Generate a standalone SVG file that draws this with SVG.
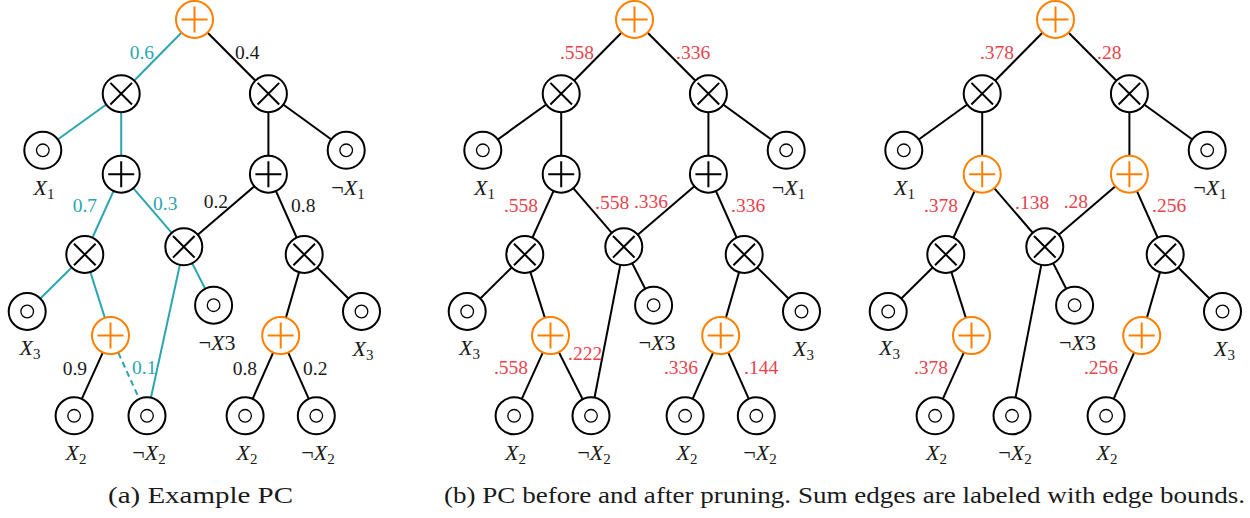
<svg xmlns="http://www.w3.org/2000/svg" width="1250" height="518" viewBox="0 0 1250 518" font-family="'Liberation Serif', 'Times New Roman', serif">
<style>
.bg{fill:#fff}
.e{stroke:#000;stroke-width:2;fill:none}
.tl{stroke:#2ba5b0}
.dash{stroke-dasharray:6 4}
.nd{stroke:#000;stroke-width:2;fill:none}
.nd circle{fill:#fff}
.org{stroke:#ff8000}
.nd .in{stroke-width:1.3}
text{font-family:"Liberation Serif","Times New Roman",serif;fill:#1a1a1a}
.w{font-size:19.5px}
.wt{fill:#2ba5b0}
.wr{fill:#e8434d}
.lb{font-size:22px;text-anchor:middle}
.it{font-style:italic}
.sb{font-size:15px}
.cap{font-size:24px}
</style>
<rect class="bg" width="1250" height="518"/>

<g id="connectors">
<!-- tree a -->
<line class="e tl" x1="194.5" y1="19.5" x2="121.2" y2="93.7"/>
<line class="e" x1="194.5" y1="19.5" x2="268.4" y2="93.7"/>
<line class="e tl" x1="121.2" y1="93.7" x2="42.8" y2="150.3"/>
<line class="e tl" x1="121.2" y1="93.7" x2="121.2" y2="174.2"/>
<line class="e" x1="268.4" y1="93.7" x2="268.4" y2="174.2"/>
<line class="e" x1="268.4" y1="93.7" x2="346.2" y2="150.3"/>
<line class="e tl" x1="121.2" y1="174.2" x2="84.8" y2="254.5"/>
<line class="e tl" x1="121.2" y1="174.2" x2="183.8" y2="246.8"/>
<line class="e" x1="268.4" y1="174.2" x2="183.8" y2="246.8"/>
<line class="e" x1="268.4" y1="174.2" x2="304.2" y2="254.5"/>
<line class="e tl" x1="84.8" y1="254.5" x2="27.2" y2="311.5"/>
<line class="e tl" x1="84.8" y1="254.5" x2="110.5" y2="335.6"/>
<line class="e tl" x1="183.8" y1="246.8" x2="147" y2="415.8"/>
<line class="e tl" x1="183.8" y1="246.8" x2="213.6" y2="305.2"/>
<line class="e" x1="304.2" y1="254.5" x2="280.7" y2="335.6"/>
<line class="e" x1="304.2" y1="254.5" x2="361.5" y2="311.5"/>
<line class="e" x1="110.5" y1="335.6" x2="74.1" y2="415.8"/>
<line class="e tl dash" x1="118.4" y1="352.9" x2="139.1" y2="398.5"/>
<line class="e" x1="280.7" y1="335.6" x2="245.1" y2="415.8"/>
<line class="e" x1="280.7" y1="335.6" x2="316.3" y2="415.8"/>
<!-- tree b -->
<line class="e" x1="634.5" y1="19.5" x2="561.2" y2="93.7"/>
<line class="e" x1="634.5" y1="19.5" x2="708.4" y2="93.7"/>
<line class="e" x1="561.2" y1="93.7" x2="482.8" y2="150.3"/>
<line class="e" x1="561.2" y1="93.7" x2="561.2" y2="174.2"/>
<line class="e" x1="708.4" y1="93.7" x2="708.4" y2="174.2"/>
<line class="e" x1="708.4" y1="93.7" x2="786.2" y2="150.3"/>
<line class="e" x1="561.2" y1="174.2" x2="524.8" y2="254.5"/>
<line class="e" x1="561.2" y1="174.2" x2="623.8" y2="246.8"/>
<line class="e" x1="708.4" y1="174.2" x2="623.8" y2="246.8"/>
<line class="e" x1="708.4" y1="174.2" x2="744.2" y2="254.5"/>
<line class="e" x1="524.8" y1="254.5" x2="467.2" y2="311.5"/>
<line class="e" x1="524.8" y1="254.5" x2="550.5" y2="335.6"/>
<line class="e" x1="623.8" y1="246.8" x2="591" y2="415.8"/>
<line class="e" x1="623.8" y1="246.8" x2="653.6" y2="305.2"/>
<line class="e" x1="744.2" y1="254.5" x2="720.7" y2="335.6"/>
<line class="e" x1="744.2" y1="254.5" x2="801.5" y2="311.5"/>
<line class="e" x1="550.5" y1="335.6" x2="514.1" y2="415.8"/>
<line class="e" x1="550.5" y1="335.6" x2="591" y2="415.8"/>
<line class="e" x1="720.7" y1="335.6" x2="685.1" y2="415.8"/>
<line class="e" x1="720.7" y1="335.6" x2="756.3" y2="415.8"/>
<!-- tree c -->
<line class="e" x1="1055.5" y1="19.5" x2="982.2" y2="93.7"/>
<line class="e" x1="1055.5" y1="19.5" x2="1129.4" y2="93.7"/>
<line class="e" x1="982.2" y1="93.7" x2="903.8" y2="150.3"/>
<line class="e" x1="982.2" y1="93.7" x2="982.2" y2="174.2"/>
<line class="e" x1="1129.4" y1="93.7" x2="1129.4" y2="174.2"/>
<line class="e" x1="1129.4" y1="93.7" x2="1207.2" y2="150.3"/>
<line class="e" x1="982.2" y1="174.2" x2="945.8" y2="254.5"/>
<line class="e" x1="982.2" y1="174.2" x2="1044.8" y2="246.8"/>
<line class="e" x1="1129.4" y1="174.2" x2="1044.8" y2="246.8"/>
<line class="e" x1="1129.4" y1="174.2" x2="1165.2" y2="254.5"/>
<line class="e" x1="945.8" y1="254.5" x2="888.2" y2="311.5"/>
<line class="e" x1="945.8" y1="254.5" x2="971.5" y2="335.6"/>
<line class="e" x1="1044.8" y1="246.8" x2="1012" y2="415.8"/>
<line class="e" x1="1044.8" y1="246.8" x2="1074.6" y2="305.2"/>
<line class="e" x1="1165.2" y1="254.5" x2="1141.7" y2="335.6"/>
<line class="e" x1="1165.2" y1="254.5" x2="1222.5" y2="311.5"/>
<line class="e" x1="971.5" y1="335.6" x2="935.1" y2="415.8"/>
<line class="e" x1="1141.7" y1="335.6" x2="1106.1" y2="415.8"/>
</g>

<!-- ===== Tree a nodes ===== -->
<g id="a-s0" class="nd org" transform="translate(194.5,19.5)"><circle r="18.5"/><path d="M-13 0H13M0-13V13"/></g>
<g id="a-p1" class="nd" transform="translate(121.2,93.7)"><circle r="18.5"/><path d="M-10.8-10.8L10.8 10.8M-10.8 10.8L10.8-10.8"/></g>
<g id="a-p2" class="nd" transform="translate(268.4,93.7)"><circle r="18.5"/><path d="M-10.8-10.8L10.8 10.8M-10.8 10.8L10.8-10.8"/></g>
<g id="a-x1" class="nd" transform="translate(42.8,150.3)"><circle r="18.5"/><circle class="in" r="6.3"/></g>
<g id="a-nx1" class="nd" transform="translate(346.2,150.3)"><circle r="18.5"/><circle class="in" r="6.3"/></g>
<g id="a-s1" class="nd" transform="translate(121.2,174.2)"><circle r="18.5"/><path d="M-13 0H13M0-13V13"/></g>
<g id="a-s2" class="nd" transform="translate(268.4,174.2)"><circle r="18.5"/><path d="M-13 0H13M0-13V13"/></g>
<g id="a-p3" class="nd" transform="translate(84.8,254.5)"><circle r="18.5"/><path d="M-10.8-10.8L10.8 10.8M-10.8 10.8L10.8-10.8"/></g>
<g id="a-p4" class="nd" transform="translate(183.8,246.8)"><circle r="18.5"/><path d="M-10.8-10.8L10.8 10.8M-10.8 10.8L10.8-10.8"/></g>
<g id="a-p5" class="nd" transform="translate(304.2,254.5)"><circle r="18.5"/><path d="M-10.8-10.8L10.8 10.8M-10.8 10.8L10.8-10.8"/></g>
<g id="a-x3" class="nd" transform="translate(27.2,311.5)"><circle r="18.5"/><circle class="in" r="6.3"/></g>
<g id="a-s3" class="nd org" transform="translate(110.5,335.6)"><circle r="18.5"/><path d="M-13 0H13M0-13V13"/></g>
<g id="a-nx3" class="nd" transform="translate(213.6,305.2)"><circle r="18.5"/><circle class="in" r="6.3"/></g>
<g id="a-s4" class="nd org" transform="translate(280.7,335.6)"><circle r="18.5"/><path d="M-13 0H13M0-13V13"/></g>
<g id="a-x3r" class="nd" transform="translate(361.5,311.5)"><circle r="18.5"/><circle class="in" r="6.3"/></g>
<g id="a-x2" class="nd" transform="translate(74.1,415.8)"><circle r="18.5"/><circle class="in" r="6.3"/></g>
<g id="a-nx2" class="nd" transform="translate(147,415.8)"><circle r="18.5"/><circle class="in" r="6.3"/></g>
<g id="a-x2r" class="nd" transform="translate(245.1,415.8)"><circle r="18.5"/><circle class="in" r="6.3"/></g>
<g id="a-nx2r" class="nd" transform="translate(316.3,415.8)"><circle r="18.5"/><circle class="in" r="6.3"/></g>

<!-- ===== Tree b nodes ===== -->
<g id="b-s0" class="nd org" transform="translate(634.5,19.5)"><circle r="18.5"/><path d="M-13 0H13M0-13V13"/></g>
<g id="b-p1" class="nd" transform="translate(561.2,93.7)"><circle r="18.5"/><path d="M-10.8-10.8L10.8 10.8M-10.8 10.8L10.8-10.8"/></g>
<g id="b-p2" class="nd" transform="translate(708.4,93.7)"><circle r="18.5"/><path d="M-10.8-10.8L10.8 10.8M-10.8 10.8L10.8-10.8"/></g>
<g id="b-x1" class="nd" transform="translate(482.8,150.3)"><circle r="18.5"/><circle class="in" r="6.3"/></g>
<g id="b-nx1" class="nd" transform="translate(786.2,150.3)"><circle r="18.5"/><circle class="in" r="6.3"/></g>
<g id="b-s1" class="nd" transform="translate(561.2,174.2)"><circle r="18.5"/><path d="M-13 0H13M0-13V13"/></g>
<g id="b-s2" class="nd" transform="translate(708.4,174.2)"><circle r="18.5"/><path d="M-13 0H13M0-13V13"/></g>
<g id="b-p3" class="nd" transform="translate(524.8,254.5)"><circle r="18.5"/><path d="M-10.8-10.8L10.8 10.8M-10.8 10.8L10.8-10.8"/></g>
<g id="b-p4" class="nd" transform="translate(623.8,246.8)"><circle r="18.5"/><path d="M-10.8-10.8L10.8 10.8M-10.8 10.8L10.8-10.8"/></g>
<g id="b-p5" class="nd" transform="translate(744.2,254.5)"><circle r="18.5"/><path d="M-10.8-10.8L10.8 10.8M-10.8 10.8L10.8-10.8"/></g>
<g id="b-x3" class="nd" transform="translate(467.2,311.5)"><circle r="18.5"/><circle class="in" r="6.3"/></g>
<g id="b-s3" class="nd org" transform="translate(550.5,335.6)"><circle r="18.5"/><path d="M-13 0H13M0-13V13"/></g>
<g id="b-nx3" class="nd" transform="translate(653.6,305.2)"><circle r="18.5"/><circle class="in" r="6.3"/></g>
<g id="b-s4" class="nd org" transform="translate(720.7,335.6)"><circle r="18.5"/><path d="M-13 0H13M0-13V13"/></g>
<g id="b-x3r" class="nd" transform="translate(801.5,311.5)"><circle r="18.5"/><circle class="in" r="6.3"/></g>
<g id="b-x2" class="nd" transform="translate(514.1,415.8)"><circle r="18.5"/><circle class="in" r="6.3"/></g>
<g id="b-nx2" class="nd" transform="translate(591,415.8)"><circle r="18.5"/><circle class="in" r="6.3"/></g>
<g id="b-x2r" class="nd" transform="translate(685.1,415.8)"><circle r="18.5"/><circle class="in" r="6.3"/></g>
<g id="b-nx2r" class="nd" transform="translate(756.3,415.8)"><circle r="18.5"/><circle class="in" r="6.3"/></g>

<!-- ===== Tree c nodes ===== -->
<g id="c-s0" class="nd org" transform="translate(1055.5,19.5)"><circle r="18.5"/><path d="M-13 0H13M0-13V13"/></g>
<g id="c-p1" class="nd" transform="translate(982.2,93.7)"><circle r="18.5"/><path d="M-10.8-10.8L10.8 10.8M-10.8 10.8L10.8-10.8"/></g>
<g id="c-p2" class="nd" transform="translate(1129.4,93.7)"><circle r="18.5"/><path d="M-10.8-10.8L10.8 10.8M-10.8 10.8L10.8-10.8"/></g>
<g id="c-x1" class="nd" transform="translate(903.8,150.3)"><circle r="18.5"/><circle class="in" r="6.3"/></g>
<g id="c-nx1" class="nd" transform="translate(1207.2,150.3)"><circle r="18.5"/><circle class="in" r="6.3"/></g>
<g id="c-s1" class="nd org" transform="translate(982.2,174.2)"><circle r="18.5"/><path d="M-13 0H13M0-13V13"/></g>
<g id="c-s2" class="nd org" transform="translate(1129.4,174.2)"><circle r="18.5"/><path d="M-13 0H13M0-13V13"/></g>
<g id="c-p3" class="nd" transform="translate(945.8,254.5)"><circle r="18.5"/><path d="M-10.8-10.8L10.8 10.8M-10.8 10.8L10.8-10.8"/></g>
<g id="c-p4" class="nd" transform="translate(1044.8,246.8)"><circle r="18.5"/><path d="M-10.8-10.8L10.8 10.8M-10.8 10.8L10.8-10.8"/></g>
<g id="c-p5" class="nd" transform="translate(1165.2,254.5)"><circle r="18.5"/><path d="M-10.8-10.8L10.8 10.8M-10.8 10.8L10.8-10.8"/></g>
<g id="c-x3" class="nd" transform="translate(888.2,311.5)"><circle r="18.5"/><circle class="in" r="6.3"/></g>
<g id="c-s3" class="nd org" transform="translate(971.5,335.6)"><circle r="18.5"/><path d="M-13 0H13M0-13V13"/></g>
<g id="c-nx3" class="nd" transform="translate(1074.6,305.2)"><circle r="18.5"/><circle class="in" r="6.3"/></g>
<g id="c-s4" class="nd org" transform="translate(1141.7,335.6)"><circle r="18.5"/><path d="M-13 0H13M0-13V13"/></g>
<g id="c-x3r" class="nd" transform="translate(1222.5,311.5)"><circle r="18.5"/><circle class="in" r="6.3"/></g>
<g id="c-x2" class="nd" transform="translate(935.1,415.8)"><circle r="18.5"/><circle class="in" r="6.3"/></g>
<g id="c-nx2" class="nd" transform="translate(1012,415.8)"><circle r="18.5"/><circle class="in" r="6.3"/></g>
<g id="c-x2r" class="nd" transform="translate(1106.1,415.8)"><circle r="18.5"/><circle class="in" r="6.3"/></g>

<!-- ===== edge weight labels ===== -->
<g id="weights-a" class="w">
<text class="wt" x="154" y="59" text-anchor="end">0.6</text>
<text x="235" y="59">0.4</text>
<text class="wt" x="97" y="212" text-anchor="end">0.7</text>
<text class="wt" x="153" y="210">0.3</text>
<text x="228" y="208" text-anchor="end">0.2</text>
<text x="291" y="212">0.8</text>
<text x="87" y="375" text-anchor="end">0.9</text>
<text class="wt" x="132" y="374">0.1</text>
<text x="257" y="375" text-anchor="end">0.8</text>
<text x="303" y="375">0.2</text>
</g>
<g id="weights-b" class="w">
<text class="wr" x="594" y="59" text-anchor="end">.558</text>
<text class="wr" x="676" y="59">.336</text>
<text class="wr" x="538" y="212" text-anchor="end">.558</text>
<text class="wr" x="595" y="209">.558</text>
<text class="wr" x="668" y="208" text-anchor="end">.336</text>
<text class="wr" x="731" y="212">.336</text>
<text class="wr" x="528" y="374" text-anchor="end">.558</text>
<text class="wr" x="568" y="360">.222</text>
<text class="wr" x="698" y="374" text-anchor="end">.336</text>
<text class="wr" x="744" y="374">.144</text>
</g>
<g id="weights-c" class="w">
<text class="wr" x="1014" y="59" text-anchor="end">.378</text>
<text class="wr" x="1097" y="59">.28</text>
<text class="wr" x="958" y="212" text-anchor="end">.378</text>
<text class="wr" x="1015" y="209">.138</text>
<text class="wr" x="1088" y="208" text-anchor="end">.28</text>
<text class="wr" x="1152" y="212">.256</text>
<text class="wr" x="948" y="374" text-anchor="end">.378</text>
<text class="wr" x="1118" y="374" text-anchor="end">.256</text>
</g>

<!-- ===== leaf labels ===== -->
<g id="leaf-labels" class="lb">
<text x="44" y="195"><tspan class="it">X</tspan><tspan class="sb" dy="4">1</tspan></text>
<text x="348" y="195">¬<tspan class="it">X</tspan><tspan class="sb" dy="4">1</tspan></text>
<text x="30" y="355"><tspan class="it">X</tspan><tspan class="sb" dy="4">3</tspan></text>
<text x="217" y="350">¬<tspan class="it">X</tspan>3</text>
<text x="363" y="356"><tspan class="it">X</tspan><tspan class="sb" dy="4">3</tspan></text>
<text x="76" y="460"><tspan class="it">X</tspan><tspan class="sb" dy="4">2</tspan></text>
<text x="149" y="460">¬<tspan class="it">X</tspan><tspan class="sb" dy="4">2</tspan></text>
<text x="247" y="460"><tspan class="it">X</tspan><tspan class="sb" dy="4">2</tspan></text>
<text x="318" y="460">¬<tspan class="it">X</tspan><tspan class="sb" dy="4">2</tspan></text>

<text x="484.5" y="195"><tspan class="it">X</tspan><tspan class="sb" dy="4">1</tspan></text>
<text x="788.5" y="195">¬<tspan class="it">X</tspan><tspan class="sb" dy="4">1</tspan></text>
<text x="469.5" y="355"><tspan class="it">X</tspan><tspan class="sb" dy="4">3</tspan></text>
<text x="657" y="350">¬<tspan class="it">X</tspan>3</text>
<text x="803.5" y="356"><tspan class="it">X</tspan><tspan class="sb" dy="4">3</tspan></text>
<text x="515.5" y="460"><tspan class="it">X</tspan><tspan class="sb" dy="4">2</tspan></text>
<text x="594" y="460">¬<tspan class="it">X</tspan><tspan class="sb" dy="4">2</tspan></text>
<text x="687" y="460"><tspan class="it">X</tspan><tspan class="sb" dy="4">2</tspan></text>
<text x="760" y="460">¬<tspan class="it">X</tspan><tspan class="sb" dy="4">2</tspan></text>

<text x="904.5" y="195"><tspan class="it">X</tspan><tspan class="sb" dy="4">1</tspan></text>
<text x="1210" y="195">¬<tspan class="it">X</tspan><tspan class="sb" dy="4">1</tspan></text>
<text x="889.5" y="355"><tspan class="it">X</tspan><tspan class="sb" dy="4">3</tspan></text>
<text x="1077.5" y="350">¬<tspan class="it">X</tspan>3</text>
<text x="1224.5" y="356"><tspan class="it">X</tspan><tspan class="sb" dy="4">3</tspan></text>
<text x="936.5" y="460"><tspan class="it">X</tspan><tspan class="sb" dy="4">2</tspan></text>
<text x="1015" y="460">¬<tspan class="it">X</tspan><tspan class="sb" dy="4">2</tspan></text>
<text x="1107" y="460"><tspan class="it">X</tspan><tspan class="sb" dy="4">2</tspan></text>
</g>

<!-- ===== captions ===== -->
<g id="captions" class="cap">
<text x="108" y="503" textLength="185" lengthAdjust="spacingAndGlyphs">(a) Example PC</text>
<text x="444" y="503" textLength="801" lengthAdjust="spacingAndGlyphs">(b) PC before and after pruning. Sum edges are labeled with edge bounds.</text>
</g>
</svg>
